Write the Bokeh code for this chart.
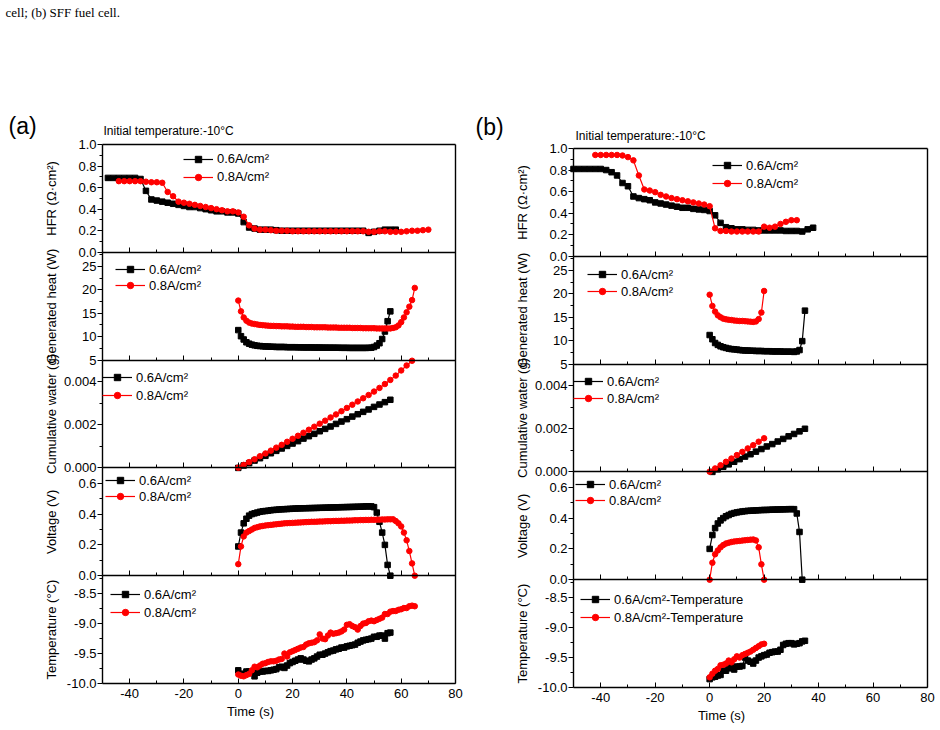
import math
from bokeh.plotting import figure
from bokeh.layouts import row
from bokeh.models import (Range1d, LinearAxis, FixedTicker, PrintfTickFormatter,
                          Legend, LegendItem, Label)
from bokeh.embed import file_html
from bokeh.resources import INLINE

FONT = "Liberation Sans"
SERIF = "Liberation Serif"
BLACK = "#000000"
RED = "#ff0000"

# ---------------- axes / ticks ----------------
X_START, X_END = -50, 80
X_MAJOR = [-40, -20, 0, 20, 40, 60, 80]
X_MINOR = [-30, -10, 10, 30, 50, 70]

BAND_KEYS = ["hfr", "heat", "water", "volt", "temp"]          # top to bottom
BAND_TITLES = {"hfr": "HFR (Ω·cm²)", "heat": "Generated heat (W)",
               "water": "Cumulative water (g)", "volt": "Voltage (V)",
               "temp": "Temperature (°C)"}
BAND_RANGES = {"hfr": (0.0, 1.0), "heat": (5.0, 28.0), "water": (0.0, 0.005),
               "volt": (0.0, 0.7), "temp": (-10.0, -8.2)}
BAND_MAJOR = {"hfr": [0.0, 0.2, 0.4, 0.6, 0.8, 1.0], "heat": [5, 10, 15, 20, 25],
              "water": [0.0, 0.002, 0.004], "volt": [0.0, 0.2, 0.4, 0.6],
              "temp": [-10.0, -9.5, -9.0, -8.5]}
BAND_MINOR = {"hfr": [0.1, 0.3, 0.5, 0.7, 0.9], "heat": [7.5, 12.5, 17.5, 22.5, 27.5],
              "water": [0.001, 0.003], "volt": [0.1, 0.3, 0.5],
              "temp": [-9.75, -9.25, -8.75, -8.25]}
BAND_FORMAT = {"hfr": "%.1f", "heat": "%d", "water": "%.3f", "volt": "%.1f", "temp": "%.1f"}

LAB06 = "0.6A/cm²"
LAB08 = "0.8A/cm²"
LAB06T = "0.6A/cm²-Temperature"
LAB08T = "0.8A/cm²-Temperature"

# ---------------- data: panel (a) ----------------
HFR_A_T06 = [-48, -46, -44, -42, -40, -38, -36, -34, -32, -30,
             -28, -26, -24, -22, -20, -18, -16, -14, -12, -10,
             -8, -6, -4, -2, 0, 2, 4, 6, 8, 10,
             12, 14, 16, 18, 20, 22, 24, 26, 28, 30,
             32, 34, 36, 38, 40, 42, 44, 46, 48, 50,
             52, 54, 56, 58]
HFR_A_06 = [0.69, 0.69, 0.69, 0.69, 0.69, 0.69, 0.68, 0.57, 0.49, 0.48,
            0.47, 0.46, 0.45, 0.44, 0.43, 0.42, 0.42, 0.41, 0.40, 0.39,
            0.38, 0.38, 0.37, 0.37, 0.36, 0.28, 0.23, 0.22, 0.21, 0.21,
            0.21, 0.205, 0.20, 0.20, 0.20, 0.20, 0.20, 0.20, 0.20, 0.20,
            0.20, 0.20, 0.20, 0.20, 0.20, 0.20, 0.20, 0.20, 0.18, 0.19,
            0.20, 0.21, 0.21, 0.21]
HFR_A_T08 = [-44, -42, -40, -38, -36, -34, -32, -30, -28, -26,
             -24, -22, -20, -18, -16, -14, -12, -10, -8, -6,
             -4, -2, 0, 2, 4, 6, 8, 10, 12, 14,
             16, 18, 20, 22, 24, 26, 28, 30, 32, 34,
             36, 38, 40, 42, 44, 46, 48, 50, 52, 54,
             56, 58, 60, 62, 64, 66, 68, 70]
HFR_A_08 = [0.66, 0.66, 0.66, 0.66, 0.66, 0.655, 0.65, 0.65, 0.645, 0.56,
            0.52, 0.47, 0.46, 0.45, 0.44, 0.43, 0.42, 0.41, 0.40, 0.39,
            0.38, 0.38, 0.37, 0.33, 0.25, 0.22, 0.21, 0.21, 0.205, 0.20,
            0.20, 0.20, 0.195, 0.195, 0.195, 0.195, 0.195, 0.195, 0.195, 0.195,
            0.195, 0.195, 0.195, 0.195, 0.195, 0.195, 0.19, 0.19, 0.195, 0.195,
            0.19, 0.19, 0.19, 0.195, 0.20, 0.20, 0.205, 0.21]

T_A06 = [0, 1, 2, 3, 4, 5, 6, 7, 8, 9,
         10, 11, 12, 13, 14, 15, 16, 17, 18, 19,
         20, 21, 22, 23, 24, 25, 26, 27, 28, 29,
         30, 31, 32, 33, 34, 35, 36, 37, 38, 39,
         40, 41, 42, 43, 44, 45, 46, 47, 48, 49,
         50, 51, 52, 53, 54, 55, 56]
T_A08 = [0, 1, 2, 3, 4, 5, 6, 7, 8, 9,
         10, 11, 12, 13, 14, 15, 16, 17, 18, 19,
         20, 21, 22, 23, 24, 25, 26, 27, 28, 29,
         30, 31, 32, 33, 34, 35, 36, 37, 38, 39,
         40, 41, 42, 43, 44, 45, 46, 47, 48, 49,
         50, 51, 52, 53, 54, 55, 56, 57, 58, 59,
         60, 61, 62, 63, 64, 65]

HEAT_A_06 = [11.4, 10.1, 9.4, 8.8, 8.5, 8.3, 8.15, 8.05, 8.0, 7.95,
             7.9, 7.9, 7.85, 7.85, 7.8, 7.8, 7.8, 7.8, 7.75, 7.75,
             7.75, 7.75, 7.72, 7.72, 7.7, 7.7, 7.7, 7.7, 7.68, 7.68,
             7.68, 7.66, 7.66, 7.65, 7.65, 7.65, 7.64, 7.64, 7.62, 7.62,
             7.62, 7.6, 7.6, 7.6, 7.6, 7.6, 7.6, 7.6, 7.62, 7.65,
             7.8, 8.1, 8.6, 9.5, 11.1, 13.3, 15.4]
HEAT_A_08 = [17.7, 15.4, 14.1, 13.4, 13.0, 12.8, 12.7, 12.6, 12.5, 12.45,
             12.4, 12.35, 12.3, 12.3, 12.25, 12.25, 12.2, 12.2, 12.2, 12.15,
             12.15, 12.1, 12.1, 12.1, 12.1, 12.05, 12.05, 12.05, 12.0, 12.0,
             12.0, 12.0, 12.0, 11.95, 11.95, 11.95, 11.95, 11.9, 11.9, 11.9,
             11.9, 11.9, 11.85, 11.85, 11.85, 11.85, 11.8, 11.8, 11.8, 11.8,
             11.8, 11.75, 11.75, 11.75, 11.75, 11.75, 11.75, 11.85, 12.0, 12.4,
             13.1, 14.1, 15.2, 16.4, 17.8, 20.4]

WATER_A_T06 = [0, 2, 4, 6, 8, 10, 12, 14, 16, 18,
               20, 22, 24, 26, 28, 30, 32, 34, 36, 38,
               40, 42, 44, 46, 48, 50, 52, 54, 56]
WATER_A_06 = [0.0, 0.00011, 0.00022, 0.00034, 0.00045, 0.00056, 0.00068, 0.00079, 0.0009, 0.00102,
              0.00113, 0.00124, 0.00136, 0.00147, 0.00158, 0.0017, 0.00181, 0.00192, 0.00204, 0.00215,
              0.00226, 0.00238, 0.00249, 0.0026, 0.00271, 0.00283, 0.00294, 0.00305, 0.00316]
WATER_A_T08 = [0, 2, 4, 6, 8, 10, 12, 14, 16, 18,
               20, 22, 24, 26, 28, 30, 32, 34, 36, 38,
               40, 42, 44, 46, 48, 50, 52, 54, 56, 58,
               60, 62, 64]
WATER_A_08 = [0.00001, 0.00014, 0.00027, 0.0004, 0.00054, 0.00067, 0.0008, 0.00094, 0.00107, 0.00121,
              0.00135, 0.00149, 0.00163, 0.00177, 0.00191, 0.00205, 0.00219, 0.00234, 0.00248, 0.00263,
              0.00278, 0.00293, 0.00308, 0.00323, 0.00338, 0.00354, 0.00371, 0.00389, 0.00408, 0.00428,
              0.00452, 0.00475, 0.00497]

VOLT_A_06 = [0.19, 0.28, 0.34, 0.37, 0.39, 0.40, 0.405, 0.41, 0.415, 0.418,
             0.42, 0.422, 0.425, 0.427, 0.428, 0.43, 0.431, 0.432, 0.433, 0.434,
             0.435, 0.436, 0.437, 0.437, 0.438, 0.438, 0.439, 0.439, 0.44, 0.44,
             0.441, 0.441, 0.442, 0.442, 0.443, 0.443, 0.444, 0.444, 0.445, 0.445,
             0.446, 0.446, 0.447, 0.447, 0.448, 0.448, 0.449, 0.45, 0.45, 0.45,
             0.445, 0.41, 0.35, 0.28, 0.20, 0.07, 0.0]
VOLT_A_08 = [0.075, 0.19, 0.255, 0.28, 0.29, 0.30, 0.31, 0.315, 0.32, 0.323,
             0.326, 0.328, 0.33, 0.332, 0.334, 0.336, 0.338, 0.34, 0.341, 0.342,
             0.343, 0.344, 0.345, 0.346, 0.347, 0.348, 0.349, 0.35, 0.35, 0.351,
             0.352, 0.352, 0.353, 0.354, 0.354, 0.355, 0.356, 0.356, 0.357, 0.357,
             0.358, 0.358, 0.359, 0.36, 0.36, 0.361, 0.361, 0.362, 0.362, 0.363,
             0.363, 0.364, 0.364, 0.365, 0.365, 0.366, 0.366, 0.366, 0.355, 0.34,
             0.32, 0.28, 0.23, 0.16, 0.08, 0.0]

TEMP_A_06 = [-9.78, -9.84, -9.84, -9.80, -9.80, -9.82, -9.88, -9.82, -9.80, -9.80,
             -9.79, -9.79, -9.78, -9.77, -9.76, -9.73, -9.72, -9.74, -9.70, -9.66,
             -9.64, -9.62, -9.60, -9.58, -9.60, -9.62, -9.63, -9.60, -9.58, -9.55,
             -9.52, -9.52, -9.50, -9.48, -9.46, -9.45, -9.43, -9.42, -9.40, -9.40,
             -9.38, -9.37, -9.36, -9.35, -9.32, -9.30, -9.28, -9.27, -9.26, -9.25,
             -9.22, -9.22, -9.20, -9.20, -9.25, -9.16, -9.15]
TEMP_A_08 = [-9.85, -9.87, -9.88, -9.86, -9.84, -9.78, -9.72, -9.73, -9.70, -9.67,
             -9.66, -9.64, -9.63, -9.63, -9.62, -9.60, -9.59, -9.50, -9.55, -9.48,
             -9.46, -9.44, -9.42, -9.40, -9.39, -9.35, -9.33, -9.32, -9.31, -9.28,
             -9.18, -9.25, -9.26, -9.20, -9.15, -9.17, -9.16, -9.15, -9.13, -9.10,
             -9.02, -9.01, -9.04, -9.06, -9.10, -9.04, -9.00, -8.99, -8.96, -8.95,
             -8.96, -8.94, -8.92, -8.90, -8.84, -8.84, -8.80, -8.79, -8.79, -8.77,
             -8.76, -8.74, -8.74, -8.71, -8.70, -8.71]

# ---------------- data: panel (b) ----------------
HFR_B_T06 = [-50, -48, -46, -44, -42, -40, -38, -36, -34, -32,
             -30, -28, -26, -24, -22, -20, -18, -16, -14, -12,
             -10, -8, -6, -4, -2, 0, 2, 4, 6, 8,
             10, 12, 14, 16, 18, 20, 22, 24, 26, 28,
             30, 32, 34, 36, 38]
HFR_B_06 = [0.81, 0.81, 0.81, 0.81, 0.81, 0.81, 0.80, 0.78, 0.75, 0.68,
            0.65, 0.555, 0.54, 0.53, 0.52, 0.50, 0.49, 0.48, 0.47, 0.46,
            0.45, 0.45, 0.44, 0.435, 0.43, 0.42, 0.38, 0.31, 0.27, 0.26,
            0.25, 0.25, 0.245, 0.245, 0.24, 0.24, 0.24, 0.24, 0.24, 0.235,
            0.235, 0.235, 0.23, 0.25, 0.265]
HFR_B_T08 = [-42, -40, -38, -36, -34, -32, -30, -28, -26, -24,
             -22, -20, -18, -16, -14, -12, -10, -8, -6, -4,
             -2, 0, 2, 4, 6, 8, 10, 12, 14, 16,
             18, 20, 22, 24, 26, 28, 30, 32]
HFR_B_08 = [0.94, 0.94, 0.94, 0.94, 0.94, 0.935, 0.92, 0.89, 0.75, 0.62,
            0.61, 0.595, 0.57, 0.555, 0.54, 0.53, 0.52, 0.51, 0.50, 0.49,
            0.48, 0.465, 0.26, 0.235, 0.235, 0.23, 0.23, 0.23, 0.23, 0.23,
            0.23, 0.275, 0.265, 0.275, 0.30, 0.32, 0.335, 0.335]

T_B06 = [0, 1, 2, 3, 4, 5, 6, 7, 8, 9,
         10, 11, 12, 13, 14, 15, 16, 17, 18, 19,
         20, 21, 22, 23, 24, 25, 26, 27, 28, 29,
         30, 31, 32, 33, 34, 35]
T_B08 = [0, 1, 2, 3, 4, 5, 6, 7, 8, 9,
         10, 11, 12, 13, 14, 15, 16, 17, 18, 19, 20]

HEAT_B_06 = [11.2, 10.3, 9.5, 9.1, 8.8, 8.6, 8.45, 8.3, 8.2, 8.15,
             8.1, 8.0, 7.95, 7.9, 7.9, 7.85, 7.85, 7.8, 7.8, 7.8,
             7.75, 7.75, 7.75, 7.7, 7.7, 7.7, 7.7, 7.65, 7.65, 7.65,
             7.65, 7.6, 7.7, 8.0, 9.9, 16.4]
HEAT_B_08 = [19.8, 17.4, 16.2, 15.4, 15.0, 14.7, 14.55, 14.45, 14.4, 14.3,
             14.25, 14.2, 14.2, 14.15, 14.1, 14.05, 14.0, 14.1, 14.6, 16.0, 20.6]

WATER_B_T06 = [1, 3, 5, 7, 9, 11, 13, 15, 17, 19,
               21, 23, 25, 27, 29, 31, 33, 35]
WATER_B_06 = [0.0, 0.00012, 0.00024, 0.00035, 0.00047, 0.00059, 0.00071, 0.00082, 0.00094, 0.00106,
              0.00118, 0.00129, 0.00141, 0.00153, 0.00165, 0.00176, 0.00188, 0.002]
WATER_B_T08 = [0, 2, 4, 6, 8, 10, 12, 14, 16, 18, 20]
WATER_B_08 = [0.00001, 0.00016, 0.00031, 0.00047, 0.00062, 0.00078, 0.00093, 0.00109, 0.00124,
              0.0014, 0.00156]

VOLT_B_T06 = [0, 1, 2, 3, 4, 5, 6, 7, 8, 9,
              10, 11, 12, 13, 14, 15, 16, 17, 18, 19,
              20, 21, 22, 23, 24, 25, 26, 27, 28, 29,
              30, 31, 32, 33, 34]
VOLT_B_06 = [0.20, 0.29, 0.335, 0.365, 0.385, 0.40, 0.412, 0.42, 0.428, 0.433,
             0.437, 0.44, 0.443, 0.445, 0.447, 0.448, 0.449, 0.45, 0.451, 0.452,
             0.453, 0.453, 0.454, 0.455, 0.455, 0.456, 0.456, 0.457, 0.457, 0.458,
             0.458, 0.458, 0.43, 0.31, 0.0]
VOLT_B_08 = [0.0, 0.11, 0.165, 0.19, 0.21, 0.225, 0.235, 0.24, 0.245, 0.248,
             0.25, 0.252, 0.254, 0.256, 0.258, 0.26, 0.261, 0.255, 0.21, 0.10, 0.0]

TEMP_B_06 = [-9.86, -9.83, -9.82, -9.80, -9.79, -9.72, -9.72, -9.68, -9.66, -9.70,
             -9.65, -9.65, -9.64, -9.50, -9.55, -9.57, -9.60, -9.55, -9.50, -9.48,
             -9.46, -9.45, -9.42, -9.41, -9.40, -9.40, -9.37, -9.29, -9.27, -9.26,
             -9.26, -9.28, -9.27, -9.26, -9.23, -9.22]
TEMP_B_08 = [-9.83, -9.77, -9.72, -9.69, -9.63, -9.62, -9.60, -9.55, -9.58, -9.53,
             -9.48, -9.50, -9.46, -9.44, -9.42, -9.40, -9.37, -9.34, -9.31, -9.28, -9.27]

# ---------------- layout specs (pixels inside each 470x730 figure) ----------------
FIG_W, FIG_H = 470, 730
SPEC_A = dict(page_x=0, left=102, right=455, top=144, bottom=683,
              tag="(a)", tag_px=(8, 125), title_px=(103, 130), ylab_dx=-51,
              xlab_px=(250, 711),
              legends={"hfr": (183, 159, 17.5), "heat": (115, 269, 16),
                       "water": (102, 377, 18), "volt": (105, 480, 16),
                       "temp": (110, 594, 18)})
SPEC_B = dict(page_x=470, left=103, right=457, top=148, bottom=687,
              tag="(b)", tag_px=(475, 126), title_px=(575, 135), ylab_dx=-51,
              xlab_px=(721, 715),
              legends={"hfr": (712, 165, 18), "heat": (587, 274, 17),
                       "water": (573, 381, 17), "volt": (575, 484, 16),
                       "temp": (580, 599, 18)})

SERIES_A = {
    "hfr": [(HFR_A_T06, HFR_A_06, BLACK, "square", LAB06), (HFR_A_T08, HFR_A_08, RED, "circle", LAB08)],
    "heat": [(T_A06, HEAT_A_06, BLACK, "square", LAB06), (T_A08, HEAT_A_08, RED, "circle", LAB08)],
    "water": [(WATER_A_T06, WATER_A_06, BLACK, "square", LAB06), (WATER_A_T08, WATER_A_08, RED, "circle", LAB08)],
    "volt": [(T_A06, VOLT_A_06, BLACK, "square", LAB06), (T_A08, VOLT_A_08, RED, "circle", LAB08)],
    "temp": [(T_A06, TEMP_A_06, BLACK, "square", LAB06), (T_A08, TEMP_A_08, RED, "circle", LAB08)],
}
SERIES_B = {
    "hfr": [(HFR_B_T06, HFR_B_06, BLACK, "square", LAB06), (HFR_B_T08, HFR_B_08, RED, "circle", LAB08)],
    "heat": [(T_B06, HEAT_B_06, BLACK, "square", LAB06), (T_B08, HEAT_B_08, RED, "circle", LAB08)],
    "water": [(WATER_B_T06, WATER_B_06, BLACK, "square", LAB06), (WATER_B_T08, WATER_B_08, RED, "circle", LAB08)],
    "volt": [(VOLT_B_T06, VOLT_B_06, BLACK, "square", LAB06), (T_B08, VOLT_B_08, RED, "circle", LAB08)],
    "temp": [(T_B06, TEMP_B_06, BLACK, "square", LAB06T), (T_B08, TEMP_B_08, RED, "circle", LAB08T)],
}


def px_to_data(spec, px_page, py):
    """Convert page pixel position into the figure's data coordinates (x, band units)."""
    px = px_page - spec["page_x"]
    sx = (X_END - X_START) / (spec["right"] - spec["left"])
    sy = 5.0 / (spec["bottom"] - spec["top"])
    return X_START + (px - spec["left"]) * sx, (spec["bottom"] - py) * sy


def add_text(p, spec, px, py, text, size, font=FONT, angle=0.0, align="left"):
    xd, yd = px_to_data(spec, px, py)
    p.add_layout(Label(x=xd, y=yd, text=text, text_font=font, text_font_size=f"{size}px",
                       text_color="black", text_align=align, text_baseline="middle",
                       angle=angle))


def make_x_axis(loc, labels):
    ax = LinearAxis(fixed_location=loc, bounds=(X_START, X_END),
                    ticker=FixedTicker(ticks=X_MAJOR, minor_ticks=X_MINOR),
                    formatter=PrintfTickFormatter(format="%d"))
    ax.axis_line_color = "black"
    ax.axis_line_width = 1.4
    ax.major_tick_in = 5
    ax.major_tick_out = 0
    ax.minor_tick_in = 3
    ax.minor_tick_out = 0
    ax.major_tick_line_color = "black"
    ax.minor_tick_line_color = "black"
    if labels:
        ax.major_label_text_font = FONT
        ax.major_label_text_font_size = "13px"
        ax.major_label_text_color = "black"
        ax.major_label_standoff = 5
    else:
        ax.major_label_text_color = None
    return ax


def build_panel(spec, series, caption=None):
    L, R, T, B = spec["left"], spec["right"], spec["top"], spec["bottom"]
    sx = (X_END - X_START) / (R - L)
    bh = (B - T) / 5.0
    x_range = Range1d(X_START - L * sx, X_END + (FIG_W - R) * sx)
    y_range = Range1d(-(FIG_H - B) / bh, 5 + T / bh)

    p = figure(frame_width=FIG_W, frame_height=FIG_H, min_border=0,
               x_range=x_range, y_range=y_range,
               x_axis_location=None, y_axis_location=None,
               output_backend="svg", toolbar_location=None)
    p.outline_line_color = None
    p.background_fill_color = "white"
    p.border_fill_color = "white"
    p.grid.visible = False

    # one y-range per stacked band, mapped onto its own strip of the frame
    extra = {}
    for k, key in enumerate(BAND_KEYS):
        lo, hi = BAND_RANGES[key]
        s = (hi - lo) / bh
        y_lo_px = T + (k + 1) * bh
        y_hi_px = T + k * bh
        extra[key] = Range1d(lo - (FIG_H - y_lo_px) * s, hi + y_hi_px * s)
    p.extra_y_ranges = extra

    # x axes: bottom (labelled) plus one on each band boundary, and the top edge
    p.add_layout(make_x_axis(0, True), "below")
    for b in [1, 2, 3, 4]:
        p.add_layout(make_x_axis(b, False), "below")
    top_ax = LinearAxis(fixed_location=5, bounds=(X_START, X_END), ticker=FixedTicker(ticks=[]))
    top_ax.axis_line_color = "black"
    top_ax.axis_line_width = 1.4
    top_ax.major_label_text_color = None
    p.add_layout(top_ax, "above")
    right_ax = LinearAxis(fixed_location=X_END, bounds=(0, 5), ticker=FixedTicker(ticks=[]))
    right_ax.axis_line_color = "black"
    right_ax.axis_line_width = 1.4
    right_ax.major_label_text_color = None
    p.add_layout(right_ax, "right")

    for k, key in enumerate(BAND_KEYS):
        lo, hi = BAND_RANGES[key]
        ya = LinearAxis(y_range_name=key, fixed_location=X_START, bounds=(lo, hi),
                        ticker=FixedTicker(ticks=BAND_MAJOR[key], minor_ticks=BAND_MINOR[key]),
                        formatter=PrintfTickFormatter(format=BAND_FORMAT[key]))
        ya.axis_line_color = "black"
        ya.axis_line_width = 1.4
        ya.major_tick_out = 5
        ya.major_tick_in = 0
        ya.minor_tick_out = 3
        ya.minor_tick_in = 0
        ya.major_tick_line_color = "black"
        ya.minor_tick_line_color = "black"
        ya.major_label_text_font = FONT
        ya.major_label_text_font_size = "13px"
        ya.major_label_text_color = "black"
        ya.major_label_standoff = 1
        p.add_layout(ya, "left")

        items = []
        for xs, ys, color, marker, lab in series[key]:
            ln = p.line(xs, ys, y_range_name=key, line_color=color, line_width=1.2)
            sc = p.scatter(xs, ys, y_range_name=key, marker=marker, size=5.5,
                           fill_color=color, line_color=color)
            items.append(LegendItem(label=lab, renderers=[ln, sc]))

        gx, row0, pitch = spec["legends"][key]
        last_center = row0 + pitch * (len(items) - 1)
        leg = Legend(items=items,
                     location=(gx - spec["page_x"], FIG_H - (last_center + 8)),
                     orientation="vertical", padding=0, margin=0,
                     spacing=int(round(pitch - 16)), glyph_width=30, glyph_height=16,
                     label_height=16, label_standoff=4,
                     label_text_font=FONT, label_text_font_size="13px",
                     label_text_color="black", label_text_baseline="middle",
                     background_fill_alpha=0, border_line_color=None)
        p.add_layout(leg)

        band_center_py = T + (k + 0.5) * bh
        add_text(p, spec, spec["page_x"] + L + spec["ylab_dx"], band_center_py,
                 BAND_TITLES[key], 13, angle=math.pi / 2, align="center")

    add_text(p, spec, spec["xlab_px"][0], spec["xlab_px"][1], "Time (s)", 13, align="center")
    add_text(p, spec, spec["tag_px"][0], spec["tag_px"][1], spec["tag"], 23)
    add_text(p, spec, spec["title_px"][0], spec["title_px"][1], "Initial temperature:-10°C", 12)
    if caption:
        add_text(p, spec, 5, 12, caption, 13, font=SERIF)
    return p


pa = build_panel(SPEC_A, SERIES_A, caption="cell; (b) SFF fuel cell.")
pb = build_panel(SPEC_B, SERIES_B)

layout = row(pa, pb)
open("out.html", "w").write(file_html(layout, INLINE))
